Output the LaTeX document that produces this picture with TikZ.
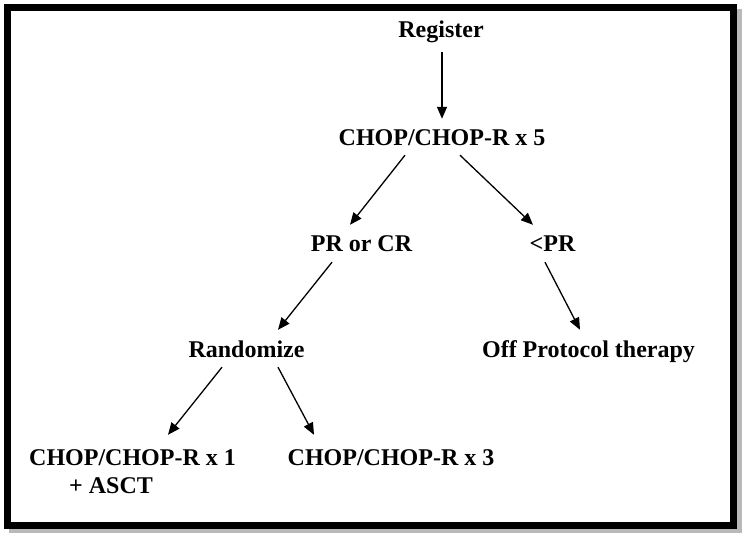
\documentclass[tikz,border=0pt]{standalone}
\usepackage{fontspec}
\setmainfont{Liberation Serif}
\usetikzlibrary{arrows.meta,positioning}

\begin{document}
\begin{tikzpicture}[x=1pt,y=1pt,
        lbl/.style={anchor=base,inner sep=0pt,text height=16pt,text depth=5pt,
            font=\fontsize{24}{28}\selectfont\bfseries},
        arr/.style={line width=1.3pt,-{Triangle[length=12pt,width=10pt]}}]
        \useasboundingbox (0,0) rectangle (743,534);
        % frame with shadow
        \fill[gray!55] (9,0.5) rectangle (742,525);
        \draw[line width=7pt,fill=white] (7.5,8.5) rectangle (733.5,526.5);
        % labels
        \node (reg) at (441,496) [lbl] {Register};
        \node (chop5) at (442,388) [lbl] {CHOP/CHOP-R x 5};
        \node (pror) at (361.5,282) [lbl] {PR or CR};
        \node (lpr) at (552.5,282) [lbl] {<PR};
        \node (rand) at (246.5,176) [lbl] {Randomize};
        \node (off) at (588.5,176) [lbl] {Off Protocol therapy};
        \node (chopa) at (132.5,68) [lbl] {CHOP/CHOP-R x 1};
        \node (asct) at ([shift={(40pt,-28pt)}]chopa.base west) [lbl,anchor=base west] {+ ASCT};
        \node (chopc) at (391,68) [lbl] {CHOP/CHOP-R x 3};
        % arrows
        \draw[arr] ([xshift=1pt,yshift=-9pt]reg.south) -- ([yshift=11pt]chop5.north);
        \draw[arr] ([xshift=-37pt,yshift=-4pt]chop5.south) -- ([xshift=-11.5pt,yshift=11pt]pror.north);
        \draw[arr] ([xshift=18pt,yshift=-4pt]chop5.south) -- ([xshift=-19.5pt,yshift=11pt]lpr.north);
        \draw[arr] ([xshift=-29.5pt,yshift=-5pt]pror.south) -- ([xshift=31.5pt,yshift=12pt]rand.north);
        \draw[arr] ([xshift=-7.5pt,yshift=-5pt]lpr.south) -- ([xshift=-8.5pt,yshift=12pt]off.north);
        \draw[arr] ([xshift=-24.5pt,yshift=-4pt]rand.south) -- ([xshift=35.5pt,yshift=15pt]chopa.north);
        \draw[arr] ([xshift=31.5pt,yshift=-4pt]rand.south) -- ([xshift=-77pt,yshift=15pt]chopc.north);
\end{tikzpicture}
\end{document}
